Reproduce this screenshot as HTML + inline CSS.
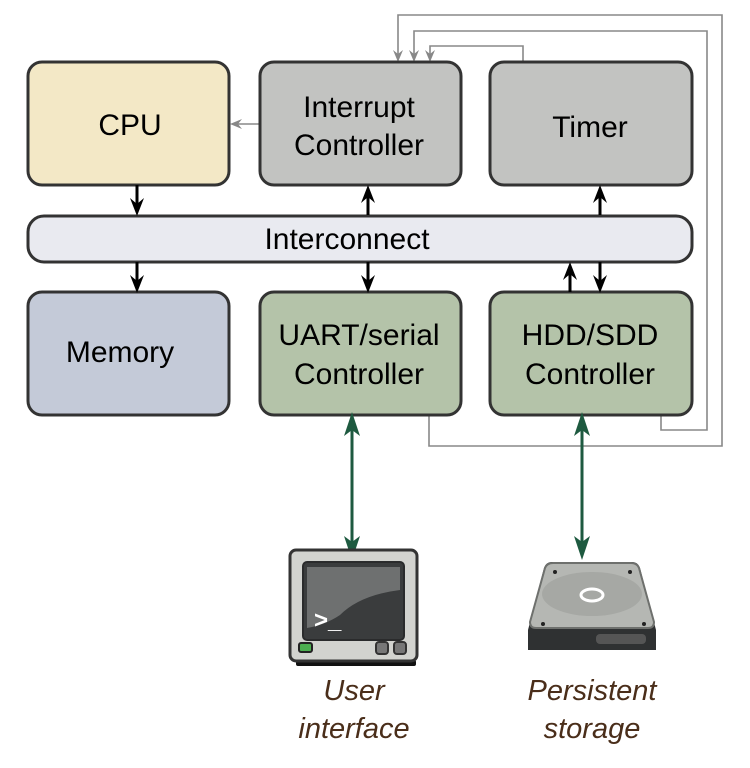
<!DOCTYPE html>
<html><head><meta charset="utf-8"><style>
body{margin:0;background:#fff}
svg{display:block}
text{font-family:"Liberation Sans",sans-serif}
</style></head><body>
<svg width="750" height="768" viewBox="0 0 750 768" xmlns="http://www.w3.org/2000/svg">
<g fill="none" stroke="#888" stroke-width="1.6">
<polyline points="429,415 429,446 722,446 722,15 398,15 398,58"/>
<polyline points="661,415 661,430 707,430 707,31 414,31 414,58"/>
<polyline points="523,62 523,46 430,46 430,58"/>
<line x1="260" y1="124" x2="234" y2="124"/>
</g>
<g fill="#888">
<path d="M398,62 L393,50 L398,54 L403,50Z"/>
<path d="M414,62 L409,50 L414,54 L419,50Z"/>
<path d="M430,62 L425,50 L430,54 L435,50Z"/>
<path d="M230,124 L242,119 L238,124 L242,129Z"/>
</g>
<g stroke="#333" stroke-width="3">
<rect x="28" y="62" width="201" height="123" rx="14" fill="#f3e8c6"/>
<rect x="260" y="62" width="201" height="123" rx="14" fill="#c2c3c1"/>
<rect x="490" y="62" width="202" height="123" rx="14" fill="#c2c3c1"/>
<rect x="28" y="216" width="664" height="46" rx="16" fill="#e9eaf0"/>
<rect x="28" y="292" width="201" height="123" rx="14" fill="#c4cad8"/>
<rect x="260" y="292" width="201" height="123" rx="14" fill="#b4c3a9"/>
<rect x="490" y="292" width="202" height="123" rx="14" fill="#b4c3a9"/>
</g>
<g font-size="30" fill="#000" text-anchor="middle">
<text x="130" y="135">CPU</text>
<text x="359" y="117">Interrupt</text>
<text x="359" y="155">Controller</text>
<text x="590" y="137">Timer</text>
<text x="347" y="249">Interconnect</text>
<text x="120" y="362">Memory</text>
<text x="359" y="345">UART/serial</text>
<text x="359" y="384">Controller</text>
<text x="590" y="345">HDD/SDD</text>
<text x="590" y="384">Controller</text>
</g>
<g stroke="#000" stroke-width="3">
<line x1="137" y1="185" x2="137" y2="206"/>
<line x1="368" y1="215" x2="368" y2="192"/>
<line x1="600" y1="215" x2="600" y2="192"/>
<line x1="137" y1="262" x2="137" y2="283"/>
<line x1="368" y1="262" x2="368" y2="283"/>
<line x1="570" y1="292" x2="570" y2="269"/>
<line x1="600" y1="262" x2="600" y2="283"/>
</g>
<g fill="#000">
<path d="M137,216 L130,198 L137,204 L144,198Z"/>
<path d="M368,185 L361,203 L368,197 L375,203Z"/>
<path d="M600,185 L593,203 L600,197 L607,203Z"/>
<path d="M137,293 L130,275 L137,281 L144,275Z"/>
<path d="M368,293 L361,275 L368,281 L375,275Z"/>
<path d="M570,262 L563,280 L570,274 L577,280Z"/>
<path d="M600,293 L593,275 L600,281 L607,275Z"/>
</g>
<g stroke="#1e5a40" stroke-width="3">
<line x1="352" y1="425" x2="352" y2="550"/>
<line x1="582" y1="425" x2="582" y2="550"/>
</g>
<g fill="#1e5a40">
<path d="M352,412 L344,436 L352,430 L360,436Z"/>
<path d="M352,560 L344,536 L352,542 L360,536Z"/>
<path d="M582,412 L574,436 L582,430 L590,436Z"/>
<path d="M582,560 L574,536 L582,542 L590,536Z"/>
</g>
<rect x="296" y="660" width="120" height="6" rx="2" fill="#111"/>
<rect x="290" y="550" width="127" height="111" rx="6" fill="#d2d3cf" stroke="#333" stroke-width="3"/>
<rect x="303" y="562" width="101" height="78" rx="4" fill="#3a3c3d" stroke="#2a2b2c" stroke-width="2"/>
<path d="M307,567 H400 V590 Q360,595 340,615 Q325,625 307,628Z" fill="#6e7070"/>
<text x="314" y="628" font-size="24" font-weight="bold" fill="#fff" font-family="Liberation Mono,monospace">&gt;_</text>
<rect x="299" y="643" width="13" height="9" rx="2" fill="#4caf50" stroke="#222" stroke-width="2"/>
<rect x="376" y="642" width="12" height="12" rx="3" fill="#777" stroke="#333" stroke-width="2"/>
<rect x="394" y="642" width="12" height="12" rx="3" fill="#777" stroke="#333" stroke-width="2"/>
<path d="M528,630 L544,568 Q546,562 552,562 H632 Q638,562 640,568 L656,630 V650 H528Z" fill="#2f3132"/>
<path d="M530,622 L545,568 Q547,563 553,563 H631 Q637,563 639,568 L654,622 Q654,628 648,628 H536 Q530,628 530,622Z" fill="#b5b7b3" stroke="#6e706d" stroke-width="2"/>
<ellipse cx="592" cy="594" rx="50" ry="22" fill="#a6a8a4"/>
<ellipse cx="592" cy="595" rx="11" ry="6" fill="none" stroke="#fff" stroke-width="3"/>
<rect x="596" y="634" width="50" height="10" rx="4" fill="#555"/>
<g fill="#222"><circle cx="555" cy="572" r="2"/><circle cx="630" cy="572" r="2"/><circle cx="543" cy="624" r="2"/><circle cx="644" cy="624" r="2"/></g>
<g font-size="29" font-style="italic" fill="#4a2e1a" text-anchor="middle">
<text x="354" y="700">User</text>
<text x="354" y="738">interface</text>
<text x="592" y="700">Persistent</text>
<text x="592" y="738">storage</text>
</g>
</svg>
</body></html>
